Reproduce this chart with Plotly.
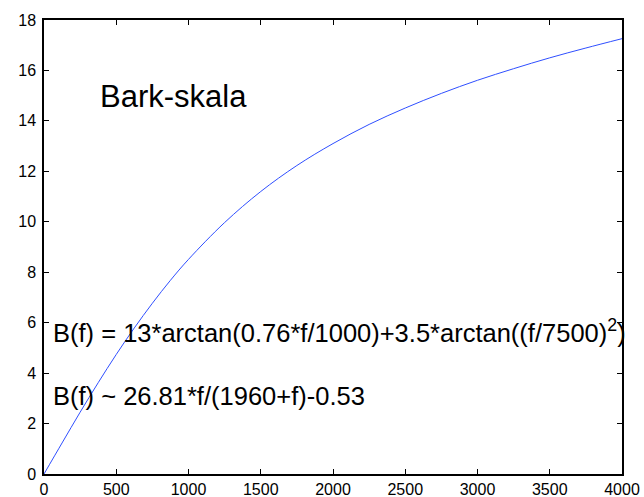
import plotly.graph_objects as go

# Frequency (Hz) and Bark values
freq = [0, 125, 250, 375, 500, 625, 750, 875, 1000, 1250, 1500, 1750, 2000,
        2250, 2500, 2750, 3000, 3250, 3500, 3750, 4000]
bark = [0.0, 1.23, 2.45, 3.62, 4.74, 5.79, 6.77, 7.68, 8.51, 9.97, 11.20,
        12.23, 13.10, 13.86, 14.51, 15.09, 15.61, 16.07, 16.50, 16.89, 17.26]

x_ticks = [0, 500, 1000, 1500, 2000, 2500, 3000, 3500, 4000]
y_ticks = [0, 2, 4, 6, 8, 10, 12, 14, 16, 18]

title_text = "Bark-skala"
formula1 = "B(f) = 13*arctan(0.76*f/1000)+3.5*arctan((f/7500)<sup>2</sup>)"
formula2 = "B(f) ~ 26.81*f/(1960+f)-0.53"

FONT = "Liberation Sans, Arial, Helvetica, sans-serif"

fig = go.Figure()
fig.add_trace(go.Scatter(x=freq, y=bark, mode="lines", line_shape="spline",
                         line=dict(color="#2f4fff", width=1), showlegend=False,
                         hoverinfo="skip"))

axis_common = dict(showgrid=False, zeroline=False, showline=True, linecolor="black",
                   linewidth=1.5, mirror="ticks", ticks="inside", ticklen=5,
                   tickwidth=1, tickcolor="black", automargin=False,
                   tickfont=dict(family=FONT, size=16, color="black"))

fig.update_xaxes(range=[0, 4000], tickvals=x_ticks,
                 ticktext=[str(v) for v in x_ticks], **axis_common)
fig.update_yaxes(range=[0, 18], tickvals=y_ticks, ticklabelstandoff=3,
                 ticktext=[str(v) for v in y_ticks], **axis_common)

fig.add_annotation(x=372, y=14.98, xref="x", yref="y", text=title_text,
                   showarrow=False, xanchor="left", yanchor="middle",
                   font=dict(family=FONT, size=31, color="black"))
fig.add_annotation(x=46, y=5.65, xref="x", yref="y", text=formula1,
                   showarrow=False, xanchor="left", yanchor="middle",
                   font=dict(family=FONT, size=25.5, color="black"))
fig.add_annotation(x=46, y=3.08, xref="x", yref="y", text=formula2,
                   showarrow=False, xanchor="left", yanchor="middle",
                   font=dict(family=FONT, size=25.5, color="black"))

fig.update_layout(width=644, height=497, margin=dict(l=44, r=22, t=20, b=23),
                  paper_bgcolor="white", plot_bgcolor="white",
                  font=dict(family=FONT))

fig.write_html("out.html")
